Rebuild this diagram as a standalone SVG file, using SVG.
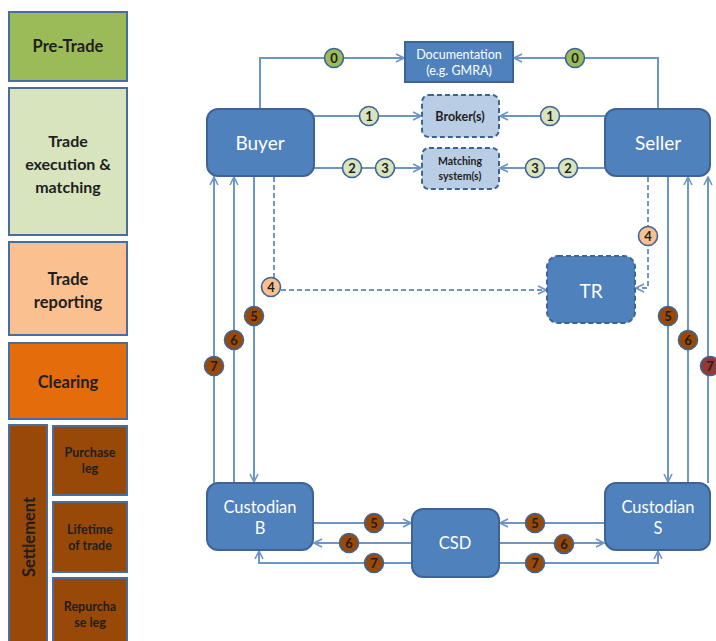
<svg xmlns="http://www.w3.org/2000/svg" width="716" height="641" viewBox="0 0 716 641">
<style>
.side{stroke:#4A6E9C;stroke-width:2}
.st{font-family:Lato,"Liberation Sans",sans-serif;font-weight:bold;fill:#1E1E1E;text-anchor:middle;dominant-baseline:central}
.node{fill:#4F81BD;stroke:#3E6496;stroke-width:2}
.dnode{stroke:#3E6496;stroke-width:2;stroke-dasharray:5 3}
.nt{font-family:Lato,"Open Sans","Liberation Sans",sans-serif;fill:#FFFFFF;text-anchor:middle;dominant-baseline:central}
.bt{font-family:Lato,"Liberation Sans",sans-serif;font-weight:bold;fill:#1E1E1E;text-anchor:middle;dominant-baseline:central;font-size:12.5px}
.c{fill:none;stroke:#6C95C8;stroke-width:2}
.d{fill:none;stroke:#6C95C8;stroke-width:2;stroke-dasharray:5 3}
.lab circle{stroke:#3E6496;stroke-width:1.6}
.lab text{font-family:Lato,"Liberation Sans",sans-serif;font-weight:bold;font-size:13px;fill:#1E1E1E;text-anchor:middle;dominant-baseline:central}
.g0{fill:#9BBB59}.g1{fill:#D7E4BD}.g4{fill:#FAC090}.g5{fill:#984807}.g7{fill:#953735}
</style>
<defs>
<marker id="ar" viewBox="0 0 10 10" refX="9" refY="5" markerWidth="10" markerHeight="10" markerUnits="userSpaceOnUse" orient="auto">
<path d="M1,1 L9,5 L1,9" fill="none" stroke="#6C95C8" stroke-width="1.6"/>
</marker>
</defs>

<g id="stages">
<g id="pretrade"><rect x="9" y="12" width="118" height="69" fill="#9BBB59" class="side"/><text class="st" x="68" y="46" font-size="16.5">Pre-Trade</text></g>
<g id="execution"><rect x="9" y="88" width="118" height="147" fill="#D7E4BD" class="side"/><text class="st" x="68" y="140" font-size="16">Trade</text><text class="st" x="68" y="163" font-size="16">execution &amp;</text><text class="st" x="68" y="186" font-size="16">matching</text></g>
<g id="reporting"><rect x="9" y="242" width="118" height="93" fill="#FAC090" class="side"/><text class="st" x="68" y="279" font-size="16.5">Trade</text><text class="st" x="68" y="302" font-size="16.5">reporting</text></g>
<g id="clearing"><rect x="9" y="343" width="118" height="76" fill="#E46C0A" class="side"/><text class="st" x="68" y="382" font-size="16.5">Clearing</text></g>
<g id="settlement"><rect x="9" y="425" width="38" height="230" fill="#984807" class="side"/><text class="st" x="0" y="0" font-size="16.5" transform="translate(29,537) rotate(-90)">Settlement</text></g>
<g id="purchase"><rect x="53" y="426" width="74" height="69" fill="#984807" class="side"/><text class="st" x="90" y="452" font-size="12.5">Purchase</text><text class="st" x="90" y="468" font-size="12.5">leg</text></g>
<g id="lifetime"><rect x="53" y="502" width="74" height="70" fill="#984807" class="side"/><text class="st" x="90" y="529" font-size="12.5">Lifetime</text><text class="st" x="90" y="545" font-size="12.5">of trade</text></g>
<g id="repurchase"><rect x="53" y="578" width="74" height="75" fill="#984807" class="side"/><text class="st" x="90" y="606" font-size="12.5">Repurcha</text><text class="st" x="90" y="622" font-size="12.5">se leg</text></g>
</g>

<g id="connectors">
<path class="c" d="M260,109 V58 H404" marker-end="url(#ar)"/>
<path class="c" d="M658,109 V58 H514" marker-end="url(#ar)"/>
<path class="c" d="M314,116 H421" marker-end="url(#ar)"/>
<path class="c" d="M605,116 H500" marker-end="url(#ar)"/>
<path class="c" d="M314,168 H421" marker-end="url(#ar)"/>
<path class="c" d="M605,168 H500" marker-end="url(#ar)"/>
<path class="d" d="M274,177 V290 H546" marker-end="url(#ar)"/>
<path class="d" d="M648,177 V288 H636" marker-end="url(#ar)"/>
<path class="c" d="M214,483 V177" marker-end="url(#ar)"/>
<path class="c" d="M234,483 V177" marker-end="url(#ar)"/>
<path class="c" d="M254,176 V482" marker-end="url(#ar)"/>
<path class="c" d="M668,176 V482" marker-end="url(#ar)"/>
<path class="c" d="M688,483 V177" marker-end="url(#ar)"/>
<path class="c" d="M708,483 V177" marker-end="url(#ar)"/>
<path class="c" d="M313,523 H411" marker-end="url(#ar)"/>
<path class="c" d="M605,523 H500" marker-end="url(#ar)"/>
<path class="c" d="M412,543 H314" marker-end="url(#ar)"/>
<path class="c" d="M499,543 H604" marker-end="url(#ar)"/>
<path class="c" d="M412,563 H259 V551" marker-end="url(#ar)"/>
<path class="c" d="M499,563 H658 V551" marker-end="url(#ar)"/>
</g>

<g id="documentation"><rect x="405" y="42" width="108" height="40" class="node"/><text class="nt" x="459" y="54" font-size="12.5">Documentation</text><text class="nt" x="459" y="70" font-size="12.5">(e.g. GMRA)</text></g>
<g id="broker"><rect x="422" y="95" width="77" height="42" rx="7" fill="#B9CDE5" class="dnode"/><text class="bt" x="460" y="116">Broker(s)</text></g>
<g id="matching"><rect x="422" y="148" width="77" height="41" rx="7" fill="#B9CDE5" class="dnode"/><text class="bt" x="460" y="161" style="font-size:10.5px">Matching</text><text class="bt" x="460" y="176" style="font-size:10.5px">system(s)</text></g>
<g id="buyer"><rect x="207" y="109" width="107" height="67" rx="11" class="node"/><text class="nt" x="260" y="142" font-size="19">Buyer</text></g>
<g id="seller"><rect x="605" y="109" width="105" height="67" rx="11" class="node"/><text class="nt" x="658" y="142" font-size="19">Seller</text></g>
<g id="tr"><rect x="547" y="256" width="88" height="67" rx="11" fill="#4F81BD" class="dnode"/><text class="nt" x="591" y="290" font-size="19">TR</text></g>
<g id="custodianB"><rect x="207" y="483" width="106" height="67" rx="11" class="node"/><text class="nt" x="260" y="507" font-size="16.5">Custodian</text><text class="nt" x="260" y="528" font-size="16.5">B</text></g>
<g id="csd"><rect x="412" y="509" width="87" height="68" rx="11" class="node"/><text class="nt" x="455" y="543" font-size="16.5">CSD</text></g>
<g id="custodianS"><rect x="605" y="483" width="105" height="67" rx="11" class="node"/><text class="nt" x="658" y="507" font-size="16.5">Custodian</text><text class="nt" x="658" y="528" font-size="16.5">S</text></g>

<g id="labels" class="lab">
<circle class="g0" cx="334" cy="58" r="9.5"/><text x="334" y="58">0</text>
<circle class="g0" cx="575" cy="58" r="9.5"/><text x="575" y="58">0</text>
<circle class="g1" cx="369" cy="116" r="9.5"/><text x="369" y="116">1</text>
<circle class="g1" cx="550" cy="116" r="9.5"/><text x="550" y="116">1</text>
<circle class="g1" cx="352" cy="168" r="9.5"/><text x="352" y="168">2</text>
<circle class="g1" cx="385" cy="168" r="9.5"/><text x="385" y="168">3</text>
<circle class="g1" cx="535" cy="168" r="9.5"/><text x="535" y="168">3</text>
<circle class="g1" cx="568" cy="168" r="9.5"/><text x="568" y="168">2</text>
<circle class="g4" cx="271" cy="287" r="9.5"/><text x="271" y="287">4</text>
<circle class="g4" cx="648" cy="236" r="9.5"/><text x="648" y="236">4</text>
<circle class="g5" cx="254" cy="316" r="9.5"/><text x="254" y="316">5</text>
<circle class="g5" cx="234" cy="340" r="9.5"/><text x="234" y="340">6</text>
<circle class="g5" cx="214" cy="366" r="9.5"/><text x="214" y="366">7</text>
<circle class="g5" cx="668" cy="316" r="9.5"/><text x="668" y="316">5</text>
<circle class="g5" cx="688" cy="340" r="9.5"/><text x="688" y="340">6</text>
<circle class="g7" cx="710" cy="366" r="9.5"/><text x="710" y="366">7</text>
<circle class="g5" cx="374" cy="523" r="9.5"/><text x="374" y="523">5</text>
<circle class="g5" cx="535" cy="523" r="9.5"/><text x="535" y="523">5</text>
<circle class="g5" cx="349" cy="543" r="9.5"/><text x="349" y="543">6</text>
<circle class="g5" cx="564" cy="544" r="9.5"/><text x="564" y="544">6</text>
<circle class="g5" cx="374" cy="563" r="9.5"/><text x="374" y="563">7</text>
<circle class="g5" cx="535" cy="563" r="9.5"/><text x="535" y="563">7</text>
</g>
</svg>
